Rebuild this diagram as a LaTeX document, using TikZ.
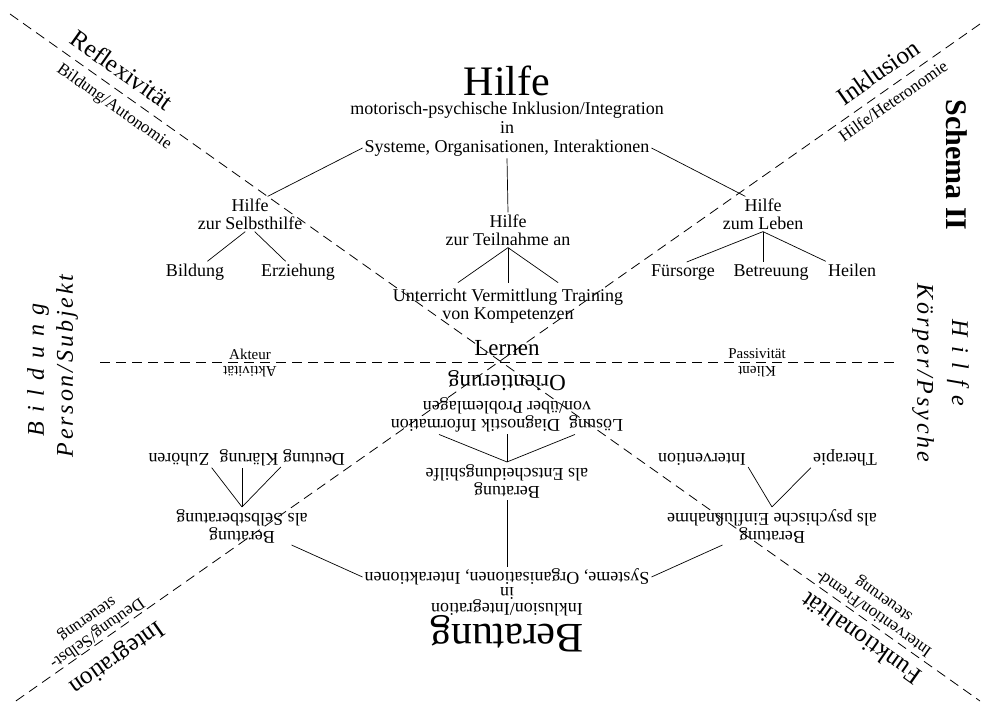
\documentclass[tikz,border=0pt]{standalone}
\usepackage{fontspec}
\setmainfont{Liberation Serif}

\tikzset{
  txt/.style={font=\fontsize{18}{18}\selectfont, align=center, inner sep=2pt},
  leaf/.style={font=\fontsize{18}{18}\selectfont, inner sep=2pt, anchor=base},
  lbl/.style={font=\fontsize{15}{15}\selectfont, inner sep=1pt},
  title/.style={font=\fontsize{42}{42}\selectfont, inner sep=0pt},
  mid/.style={font=\fontsize{23}{23}\selectfont, inner sep=1pt},
  dtitle/.style={font=\fontsize{25}{25}\selectfont, inner sep=0pt},
  dsub/.style={font=\fontsize{17}{17}\selectfont, align=center, inner sep=0pt},
  sidewide/.style={font=\fontsize{24}{24}\selectfont\itshape\addfontfeatures{LetterSpace=40}, inner sep=0pt},
  sidetight/.style={font=\fontsize{24}{24}\selectfont\itshape\addfontfeatures{LetterSpace=12}, inner sep=0pt},
  flip/.style={rotate=180},
  axis/.style={line width=0.8pt, dash pattern=on 10pt off 6pt},
  branch/.style={line width=0.7pt},
}

\begin{document}
\begin{tikzpicture}[x=1pt, y=-1pt]
\useasboundingbox (0,0) rectangle (982,706);
\coordinate (nw) at (10,14);
\coordinate (se) at (980,701);
\coordinate (ne) at (980,24);
\coordinate (sw) at (13,703);
\coordinate (w) at (100,362);
\coordinate (e) at (897,362);
\draw[axis] (nw) -- (se);
\draw[axis] (ne) -- (sw);
\draw[axis] (w) -- (e);

\path (507,81) node[title] (hilfe) {Hilfe};
\path (507,110) node[txt] (mot) {motorisch-psychische Inklusion/Integration};
\path (507,128) node[txt] (hin) {in};
\path (507,148) node[txt] (sys) {Systeme, Organisationen, Interaktionen};
\path (250,214) node[txt] (selbst) {Hilfe\\zur Selbsthilfe};
\path (508,230) node[txt] (teil) {Hilfe\\zur Teilnahme an};
\path (763,214) node[txt] (leben) {Hilfe\\zum Leben};
\path (195,276) node[leaf] (bild) {Bildung};
\path (298,276) node[leaf] (erz) {Erziehung};
\path (508,306) node[txt, inner ysep=6pt] (unter) {Unterricht Vermittlung Training\\von Kompetenzen};
\path (683,276) node[leaf] (fuer) {Fürsorge};
\path (771,276) node[leaf] (betr) {Betreuung};
\path (852,276) node[leaf] (heil) {Heilen};

\path (507,348) node[mid] (lern) {Lernen};
\path (507,381) node[mid, flip] (orient) {Orientierung};
\path (250,354) node[lbl] (akt) {Akteur};
\path (250,372) node[lbl, flip] (aktiv) {Aktivität};
\path (757,354) node[lbl] (pass) {Passivität};
\path (757,372) node[lbl, flip] (klient) {Klient};

\path (507,415) node[txt, flip] (loes) {Lösung\ \ Diagnostik Information\\von/über Problemlagen};
\path (507,481) node[txt, flip] (entsch) {Beratung\\als Entscheidungshilfe};
\path (242,526) node[txt, flip] (selbstb) {Beratung\\als Selbstberatung};
\path (772,526) node[txt, flip] (einfl) {Beratung\\als psychische Einflußnahme};
\path (179,453) node[leaf, flip] (zuh) {Zuhören};
\path (249,453) node[leaf, flip] (klar) {Klärung};
\path (314,453) node[leaf, flip] (deut) {Deutung};
\path (702,453) node[leaf, flip] (intv) {Intervention};
\path (845,453) node[leaf, flip] (ther) {Therapie};
\path (507,577) node[txt, flip] (bsys) {Systeme, Organisationen, Interaktionen};
\path (507,593) node[txt, flip] (bin) {in};
\path (507,608) node[txt, flip] (binkl) {Inklusion/Integration};
\path (507,634) node[title, flip] (berat) {Beratung};

\path (122,70) node[dtitle, rotate=-35.3] (refl) {Reflexivität};
\path (114,107) node[dsub, rotate=-35.3] (bildaut) {Bildung/Autonomie};
\path (878,72) node[dtitle, rotate=35.1] (inkl) {Inklusion};
\path (893,101) node[dsub, rotate=35.1] (heter) {Hilfe/Heteronomie};
\path (116,657) node[dtitle, rotate=215.1] (integ) {Integration};
\path (92,626) node[dsub, rotate=215.1] (deutsel) {Deutung/Selbst-\\steuerung};
\path (861,639) node[dtitle, rotate=144.7] (funk) {Funktionalität};
\path (879,606) node[dsub, rotate=144.7] (intfr) {Intervention/Fremd-\\steuerung};

\path (957,165) node[font=\fontsize{30}{30}\selectfont\bfseries, inner sep=0pt, rotate=-90] (schema) {Schema II};
\path (38,370) node[sidewide, rotate=90] (bildside) {Bildung};
\path (67,366) node[sidetight, rotate=90] (person) {Person/Subjekt};
\path (958,363) node[sidewide, rotate=-90] (hilfeside) {Hilfe};
\path (923,373) node[sidetight, rotate=-90] (koerper) {Körper/Psyche};

\draw[branch] (sys.west) -- (selbst.45);
\draw[branch] (sys.east) -- (leben.135);
\draw[branch] (sys.south) -- (teil.north);
\draw[branch] (selbst.-105) -- (bild.40);
\draw[branch] (selbst.-75) -- (erz.140);
\draw[branch] (teil.south) -- (unter.155);
\draw[branch] (teil.south) -- (unter.north);
\draw[branch] (teil.south) -- (unter.25);
\draw[branch] (leben.south) -- (fuer.70);
\draw[branch] (leben.south) -- (leben.south |- betr.north);
\draw[branch] (leben.south) -- (heil.north west);

\draw[branch] (loes.16) -- (entsch.south);
\draw[branch] (loes.north) -- (entsch.south);
\draw[branch] (loes.164) -- (entsch.south);
\draw[branch] (entsch.north) -- (bsys.south);
\draw[branch] (bsys.east) -- (selbstb.159);
\draw[branch] (bsys.west) -- (einfl.21);
\draw[branch] (selbstb.south) -- (zuh.north west);
\draw[branch] (selbstb.south) -- (selbstb.south |- klar.north);
\draw[branch] (selbstb.south) -- (deut.north east);
\draw[branch] (einfl.south) -- (intv.north west);
\draw[branch] (einfl.south) -- (ther.north east);
\end{tikzpicture}
\end{document}
